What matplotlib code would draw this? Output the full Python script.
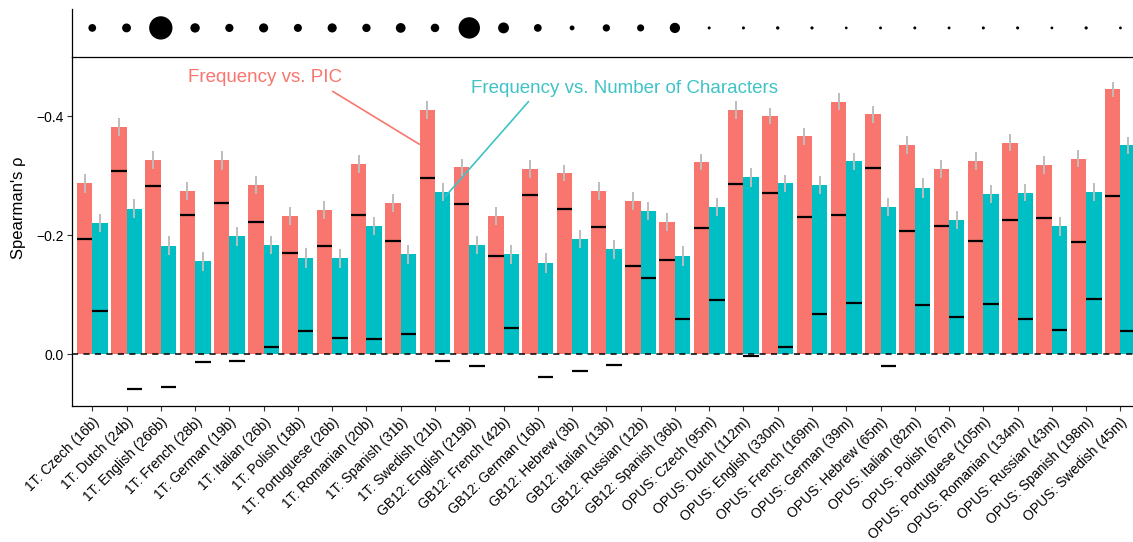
import numpy as np
import matplotlib
matplotlib.use("Agg")
import matplotlib.pyplot as plt

plt.rcParams['font.family'] = ['Liberation Sans', 'DejaVu Sans']

labels = ["1T: Czech (16b)", "1T: Dutch (24b)", "1T: English (266b)", "1T: French (28b)",
          "1T: German (19b)", "1T: Italian (26b)", "1T: Polish (18b)", "1T: Portuguese (26b)",
          "1T: Romanian (20b)", "1T: Spanish (31b)", "1T: Swedish (21b)", "GB12: English (219b)",
          "GB12: French (42b)", "GB12: German (16b)", "GB12: Hebrew (3b)", "GB12: Italian (13b)",
          "GB12: Russian (12b)", "GB12: Spanish (36b)", "OPUS: Czech (95m)", "OPUS: Dutch (112m)",
          "OPUS: English (330m)", "OPUS: French (169m)", "OPUS: German (39m)", "OPUS: Hebrew (65m)",
          "OPUS: Italian (82m)", "OPUS: Polish (67m)", "OPUS: Portuguese (105m)", "OPUS: Romanian (134m)",
          "OPUS: Russian (43m)", "OPUS: Spanish (198m)", "OPUS: Swedish (45m)"]

corpus_size_b = [16, 24, 266, 28, 19, 26, 18, 26, 20, 31, 21, 219, 42, 16, 3, 13, 12, 36,
                 0.095, 0.112, 0.330, 0.169, 0.039, 0.065, 0.082, 0.067, 0.105, 0.134, 0.043, 0.198, 0.045]

pic_rho = [-0.287, -0.381, -0.326, -0.274, -0.326, -0.284, -0.232, -0.242, -0.319, -0.254, -0.410,
           -0.314, -0.232, -0.311, -0.304, -0.274, -0.257, -0.222,
           -0.323, -0.410, -0.400, -0.366, -0.424, -0.403, -0.351, -0.311, -0.324, -0.355, -0.318, -0.328, -0.445]
pic_ci = [0.016, 0.015, 0.0145, 0.015, 0.016, 0.015, 0.0155, 0.0155, 0.015, 0.015, 0.0145,
          0.0145, 0.0155, 0.0145, 0.014, 0.0155, 0.0155, 0.0155,
          0.014, 0.0145, 0.014, 0.0145, 0.014, 0.014, 0.0155, 0.015, 0.0155, 0.0145, 0.015, 0.0145, 0.013]
pic_null = [-0.193, -0.307, -0.282, -0.234, -0.254, -0.222, -0.170, -0.182, -0.234, -0.190, -0.295,
            -0.252, -0.164, -0.267, -0.244, -0.214, -0.148, -0.158,
            -0.212, -0.286, -0.271, -0.231, -0.234, -0.313, -0.207, -0.215, -0.190, -0.225, -0.229, -0.189, -0.266]

chars_rho = [-0.220, -0.244, -0.182, -0.156, -0.198, -0.183, -0.161, -0.161, -0.215, -0.168, -0.272,
             -0.183, -0.168, -0.153, -0.193, -0.176, -0.240, -0.165,
             -0.247, -0.297, -0.287, -0.284, -0.324, -0.247, -0.279, -0.225, -0.269, -0.271, -0.215, -0.272, -0.351]
chars_ci = [0.0145, 0.016, 0.0155, 0.016, 0.016, 0.0155, 0.0165, 0.016, 0.0155, 0.016, 0.015,
            0.0145, 0.016, 0.0165, 0.0155, 0.0155, 0.015, 0.0165,
            0.015, 0.0155, 0.0145, 0.015, 0.0145, 0.015, 0.016, 0.015, 0.0155, 0.0145, 0.016, 0.0155, 0.0145]
chars_null = [-0.072, 0.059, 0.056, 0.013, 0.011, -0.012, -0.038, -0.027, -0.025, -0.034, 0.011,
              0.020, -0.043, 0.039, 0.028, 0.018, -0.128, -0.059,
              -0.091, 0.004, -0.012, -0.068, -0.085, 0.021, -0.082, -0.063, -0.084, -0.059, -0.041, -0.093, -0.038]

RED = "#F8766D"
TEAL = "#00BFC4"
TEAL_TXT = "#3FC3C7"

W, H = 1133, 542
fig = plt.figure(figsize=(W / 100, H / 100), dpi=100)

def px_axes(left, top, right, bottom):
    return [left / W, 1 - bottom / H, (right - left) / W, (bottom - top) / H]

ax = fig.add_axes(px_axes(71.7, 57, 1141, 406))
axt = fig.add_axes(px_axes(71.7, 9, 1141, 57), sharex=ax)

n = len(labels)
x = np.arange(n)
bw = 0.45
xr = x - bw / 2
xt = x + bw / 2

ax.bar(xr, pic_rho, width=bw, color=RED, zorder=2)
ax.bar(xt, chars_rho, width=bw, color=TEAL, zorder=2)

pr = np.array(pic_rho); pc = np.array(pic_ci)
cr = np.array(chars_rho); cc = np.array(chars_ci)
ax.vlines(xr, pr - pc, pr + pc, color="#BDBDBD", lw=1.4, zorder=3)
ax.vlines(xt, cr - cc, cr + cc, color="#BDBDBD", lw=1.4, zorder=3)

ax.hlines(pic_null, xr - bw / 2, xr + bw / 2, color="black", lw=1.6, zorder=4)
ax.hlines(chars_null, xt - bw / 2, xt + bw / 2, color="black", lw=1.6, zorder=4)

ax.axhline(0, color="black", lw=1.1, ls=(0, (4, 3.5)), zorder=5)

ax.set_xlim(-0.6, n - 1 + 0.6)
ax.set_ylim(0.0874, -0.4992)
ax.set_yticks([-0.4, -0.2, 0.0])
ax.set_yticklabels(["\u22120.4", "\u22120.2", "0.0"])
ax.set_xticks(x)
ax.set_xticklabels(labels, rotation=45, ha="right", va="top", rotation_mode="anchor")
ax.tick_params(axis="both", labelsize=10, length=3.5, width=0.8, color="#333333", labelcolor="black")
ax.tick_params(axis="x", pad=3)
ax.tick_params(axis="y", pad=2)
for s in ["top", "right"]:
    ax.spines[s].set_visible(False)
for s in ["left", "bottom"]:
    ax.spines[s].set_linewidth(0.9)
    ax.spines[s].set_color("black")

# annotations (text + leader lines)
ax.text(5.04, -0.464, "Frequency vs. PIC", color=RED, fontsize=13.5, ha="center", va="center", zorder=6)
ax.plot([7.0, 9.56], [-0.442, -0.352], color=RED, lw=1.2, zorder=6, solid_capstyle="butt")
ax.text(15.54, -0.4466, "Frequency vs. Number of Characters", color=TEAL_TXT, fontsize=13.5,
        ha="center", va="center", zorder=6)
ax.plot([12.74, 10.29], [-0.425, -0.264], color=TEAL_TXT, lw=1.2, zorder=6, solid_capstyle="butt")

# top panel: corpus size dots
sz = np.array(corpus_size_b)
scaled = (sz - sz.min()) / (sz.max() - sz.min())
diam_px = 2.7 + 20.6 * np.sqrt(scaled)
s_pts = (diam_px * 0.72) ** 2
axt.scatter(x, np.zeros(n), s=s_pts, color="black", edgecolors="none", zorder=3)
axt.set_ylim(-0.606, 0.394)
axt.set_yticks([])
axt.tick_params(axis="x", bottom=False, labelbottom=False)
for s in ["top", "right"]:
    axt.spines[s].set_visible(False)
axt.spines["left"].set_linewidth(0.9)
axt.spines["bottom"].set_linewidth(0.9)

fig.text(18.5 / W, 1 - 207.5 / H, "Spearman's \u03c1", rotation=90, ha="center", va="center", fontsize=12)

fig.savefig("out.png", dpi=100)
